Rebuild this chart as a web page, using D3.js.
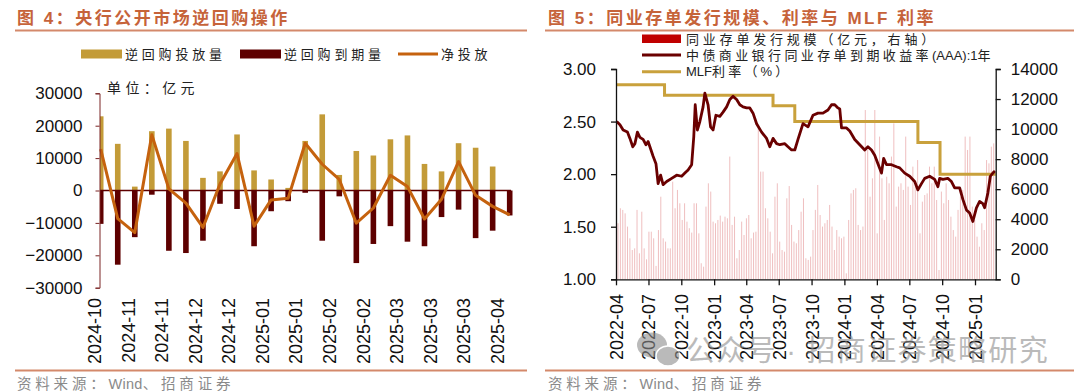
<!DOCTYPE html>
<html>
<head>
<meta charset="utf-8">
<script src="https://cdn.jsdelivr.net/npm/d3@7"></script>
<style>
  body { margin: 0; background: #fff; }
  svg { display: block; font-family: "Liberation Sans", "Noto Sans CJK SC", sans-serif; }
</style>
</head>
<body>
<div id="chart"></div>
<script>
/* ---------- 图4 data: weekly reverse repo (亿元) ---------- */
const weeks = ["2024-10-18","2024-10-25","2024-11-01","2024-11-08","2024-11-15","2024-11-22","2024-11-29",
  "2024-12-06","2024-12-13","2024-12-20","2024-12-27","2025-01-03","2025-01-10","2025-01-17","2025-01-24",
  "2025-01-31","2025-02-07","2025-02-14","2025-02-21","2025-02-28","2025-03-07","2025-03-14","2025-03-21",
  "2025-03-28","2025-04-04"];
const injection = [22900,14400,1200,18300,19100,15300,3900,5900,17300,6200,3400,800,15300,23500,4800,
  12200,10800,15800,17000,8200,5900,14600,13200,7400,0];
const maturity = [-10300,-22900,-14400,-1300,-18600,-19300,-15500,-4100,-5700,-17200,-6400,-3300,-700,
  -15500,-1800,-22400,-16500,-11000,-15800,-17200,-8200,-5900,-14700,-12400,-7700];
const netInjection = [12800,-8700,-13000,17200,500,-3900,-11400,2000,11400,-11000,-2900,-2400,14600,8100,
  3400,-10100,-5400,4700,1200,-8800,-2700,8900,-1500,-4900,-7500];
const weekTicks = ["2024-10","2024-11","2024-11","2024-12","2024-12","2025-01","2025-01","2025-02",
  "2025-02","2025-03","2025-03","2025-03","2025-04"];
const leftTicks = [30000,20000,10000,0,-10000,-20000,-30000];

/* ---------- 图5 data ---------- */
// 中债商业银行同业存单到期收益率(AAA):1年 (%)
const ncdYield = [
  ["2022-04-03",2.50],["2022-04-12",2.47],["2022-04-21",2.42],["2022-05-03",2.40],["2022-05-10",2.34],
  ["2022-05-18",2.26],["2022-05-24",2.29],["2022-05-31",2.40],["2022-06-07",2.35],["2022-06-16",2.33],
  ["2022-06-24",2.28],["2022-06-30",2.31],["2022-07-05",2.26],["2022-07-14",2.17],["2022-07-22",2.10],
  ["2022-07-28",1.91],["2022-08-04",1.99],["2022-08-11",1.90],["2022-08-21",1.93],["2022-09-04",1.96],
  ["2022-09-18",1.99],["2022-10-02",1.98],["2022-10-11",2.01],["2022-10-20",2.04],["2022-10-30",2.09],
  ["2022-11-05",2.36],["2022-11-09",2.66],["2022-11-15",2.42],["2022-11-22",2.50],["2022-12-01",2.64],
  ["2022-12-06",2.77],["2022-12-15",2.66],["2022-12-22",2.45],["2022-12-29",2.42],["2023-01-06",2.56],
  ["2023-01-17",2.55],["2023-01-26",2.59],["2023-02-05",2.64],["2023-02-14",2.71],["2023-02-23",2.74],
  ["2023-03-05",2.71],["2023-03-14",2.66],["2023-03-23",2.64],["2023-04-02",2.63],["2023-04-11",2.63],
  ["2023-04-20",2.58],["2023-04-30",2.48],["2023-05-14",2.40],["2023-05-28",2.34],["2023-06-06",2.26],
  ["2023-06-15",2.34],["2023-06-25",2.29],["2023-07-04",2.28],["2023-07-18",2.29],["2023-07-27",2.26],
  ["2023-08-06",2.23],["2023-08-15",2.23],["2023-08-24",2.33],["2023-09-07",2.48],["2023-09-21",2.45],
  ["2023-10-05",2.56],["2023-10-19",2.58],["2023-11-02",2.58],["2023-11-16",2.61],["2023-11-26",2.66],
  ["2023-12-05",2.66],["2023-12-14",2.63],["2023-12-19",2.62],["2023-12-24",2.44],["2024-01-07",2.44],
  ["2024-01-16",2.41],["2024-01-30",2.33],["2024-02-13",2.28],["2024-02-27",2.23],["2024-03-07",2.26],
  ["2024-03-17",2.23],["2024-03-26",2.18],["2024-04-04",2.10],["2024-04-14",2.01],["2024-04-20",2.15],
  ["2024-04-28",2.09],["2024-05-12",2.09],["2024-05-26",2.07],["2024-06-04",2.06],["2024-06-18",2.01],
  ["2024-07-02",1.98],["2024-07-16",1.93],["2024-07-25",1.85],["2024-08-04",1.91],["2024-08-13",1.96],
  ["2024-08-27",1.98],["2024-09-10",1.95],["2024-09-19",1.88],["2024-09-24",1.96],["2024-10-03",1.95],
  ["2024-10-17",1.96],["2024-10-27",1.93],["2024-11-05",1.87],["2024-11-19",1.87],["2024-11-28",1.76],
  ["2024-12-08",1.66],["2024-12-17",1.63],["2024-12-26",1.55],["2025-01-05",1.68],["2025-01-14",1.74],
  ["2025-01-23",1.72],["2025-01-28",1.68],["2025-02-06",1.82],["2025-02-13",1.98],["2025-02-20",2.01],
  ["2025-02-26",2.03]
];
// MLF利率（%）
const mlfRate = [["2022-04-01",2.85],["2022-08-15",2.75],["2023-06-15",2.65],["2023-08-15",2.50],
  ["2024-07-25",2.30],["2024-09-25",2.00],["2025-02-28",2.00]];
// 同业存单发行规模（亿元）, roughly weekly samples from 2022-04 to 2025-02
const ncdIssue = [3730,4730,4620,4390,3510,2730,1950,2060,4620,1730,4500,2060,1330,3170,3170,2730,890,
  3280,5500,2730,2510,2060,2060,6500,4730,5950,5060,3950,5060,3840,3400,3110,5060,5060,3060,1070,840,
  4840,6390,5840,3840,3730,3950,4240,3840,4170,4060,8170,3620,4170,1400,1950,3840,2950,4060,4280,2730,
  3110,3170,10050,7170,7170,4730,4060,3170,1730,5500,6390,2510,1950,1840,5390,6210,3620,2510,2400,3280,
  4500,5390,1400,1290,
  1510,3280,4620,6280,4280,3510,3730,3950,4950,3510,1950,3280,2840,2730,2840,400,3950,5720,5950,6060,
  3620,3280,3510,11270,8610,5500,6720,11270,3060,9500,6720,3950,6830,6390,8170,10380,4840,6170,6390,
  5950,9500,6170,4950,7500,6280,7940,3060,5170,5610,5720,7500,6390,7500,5280,620,5840,5060,6390,5280,
  4170,3280,2840,4620,5500,5950,9500,8610,9500,4840,3950,2840,2170,3730,3280,7940,7720,8830,9050];
const quarterTicks = ["2022-04","2022-07","2022-10","2023-01","2023-04","2023-07","2023-10","2024-01",
  "2024-04","2024-07","2024-10","2025-01"];
const rateTicks = [1.0,1.5,2.0,2.5,3.0];
const issueTicks = [0,2000,4000,6000,8000,10000,12000,14000];

const width = 1080, height = 392;
const titleColor = "#c6633a", ruleColor = "#d4896b";
const parse = d3.timeParse("%Y-%m-%d"), parseM = d3.timeParse("%Y-%m");

const svg = d3.select("#chart").append("svg")
  .attr("width", width).attr("height", height)
  .attr("viewBox", [0, 0, width, height]);

// text with spaced CJK pieces and tight latin pieces: parts = [[str, spacing], ...]
function spaced(sel, parts) {
  parts.forEach(p => sel.append("tspan").attr("letter-spacing", p[1] + "px").text(p[0]));
  return sel;
}

/* frame pieces shared by both panels */
function frame(x0, x1, tx, title, sourceX) {
  svg.append("text").attr("x", tx).attr("y", 23.5)
    .attr("fill", titleColor).attr("font-size", 17).attr("font-weight", "bold")
    .attr("letter-spacing", "2.5px").text(title);
  svg.append("line").attr("x1", x0).attr("x2", x1).attr("y1", 30.5).attr("y2", 30.5)
    .attr("stroke", ruleColor).attr("stroke-width", 2);
  svg.append("line").attr("x1", x0).attr("x2", x1).attr("y1", 370.5).attr("y2", 370.5)
    .attr("stroke", ruleColor).attr("stroke-width", 2);
  spaced(svg.append("text").attr("x", sourceX).attr("y", 388.5)
    .attr("fill", "#8a8a8a").attr("font-size", 14.5),
    [["资料来源：", 3.8], ["Wind", 0.3], ["、招商证券", 3.8]]);
}
frame(15, 527, 17, "图 4：央行公开市场逆回购操作", 17);
frame(545, 1074, 548, "图 5：同业存单发行规模、利率与 MLF 利率", 548);

/* ================= 图4 ================= */
const gold = "#c39b38", maroon = "#5e0000", orange = "#c5620e";

const x = d3.scalePoint().domain(weeks).range([100.7, 509.7]);
const y = d3.scaleLinear().domain([-30000, 30000]).range([287.7, 93.3]);
const xLab = d3.scalePoint().domain(d3.range(weekTicks.length)).range([95, 497.3]);

svg.append("defs").append("clipPath").attr("id", "clipL")
  .append("rect").attr("x", 100).attr("y", 80).attr("width", 420).attr("height", 220);

// legend
const legL = svg.append("g").attr("font-size", 13).attr("letter-spacing", "3.8px").attr("fill", "#222");
legL.append("rect").attr("x", 81).attr("y", 49.5).attr("width", 41).attr("height", 9).attr("fill", gold);
legL.append("text").attr("x", 125).attr("y", 58.5).text("逆回购投放量");
legL.append("rect").attr("x", 240).attr("y", 49.5).attr("width", 41).attr("height", 9).attr("fill", maroon);
legL.append("text").attr("x", 284).attr("y", 58.5).text("逆回购到期量");
legL.append("line").attr("x1", 398).attr("x2", 438).attr("y1", 54).attr("y2", 54)
  .attr("stroke", orange).attr("stroke-width", 3);
legL.append("text").attr("x", 441).attr("y", 58.5).text("净投放");

svg.append("text").attr("x", 107).attr("y", 92.5).attr("font-size", 14)
  .attr("letter-spacing", "4.4px").attr("fill", "#222").text("单位：亿元");

// bars
const plotL = svg.append("g").attr("clip-path", "url(#clipL)");
plotL.selectAll(".inj").data(weeks).join("rect").attr("class", "inj")
  .attr("x", d => x(d) - 2.8).attr("width", 5.6)
  .attr("y", (d, i) => y(injection[i])).attr("height", (d, i) => y(0) - y(injection[i]))
  .attr("fill", gold);
plotL.selectAll(".mat").data(weeks).join("rect").attr("class", "mat")
  .attr("x", d => x(d) - 2.8).attr("width", 5.6)
  .attr("y", y(0)).attr("height", (d, i) => y(maturity[i]) - y(0))
  .attr("fill", maroon);

// zero line
svg.append("line").attr("x1", 100).attr("x2", 511).attr("y1", y(0)).attr("y2", y(0))
  .attr("stroke", maroon).attr("stroke-width", 1.6);

// net line
svg.append("path").datum(weeks)
  .attr("d", d3.line().x(d => x(d)).y((d, i) => y(netInjection[i])))
  .attr("fill", "none").attr("stroke", orange).attr("stroke-width", 3)
  .attr("stroke-linejoin", "round");

// y axis
const axL = svg.append("g").attr("transform", "translate(99.5,0)")
  .call(d3.axisLeft(y).tickValues(leftTicks).tickSize(4).tickSizeOuter(4).tickPadding(13)
    .tickFormat(d3.format("d")));
axL.select(".domain").attr("stroke", "#7a2424");
axL.selectAll(".tick line").attr("stroke", "#7a2424");
axL.selectAll("text").attr("font-size", 17).attr("fill", "#111").attr("font-family", "Liberation Sans");

// x labels
svg.append("g").selectAll("text").data(weekTicks).join("text")
  .attr("transform", (d, i) => `translate(${xLab(i)},298) rotate(-90)`)
  .attr("text-anchor", "end").attr("dy", "0.35em")
  .attr("font-size", 18).attr("fill", "#111").text(d => d);

/* ================= 图5 ================= */
const red = "#c00000", wine = "#6a0000", mlfGold = "#c9a13c";
const L = 616, R = 995.7, T = 69, B = 279.3;

const xt = d3.scaleTime().domain([parse("2022-04-01"), parse("2025-02-28")]).range([L, R]);
const yR = d3.scaleLinear().domain([1, 3]).range([B, T]);
const yI = d3.scaleLinear().domain([0, 14000]).range([B, T]);
const xi = d3.scaleLinear().domain([0, ncdIssue.length - 1]).range([L + 2, R - 2]);

// issuance bars
svg.append("g").selectAll("rect").data(ncdIssue).join("rect")
  .attr("x", (d, i) => xi(i) - 0.5).attr("width", 1)
  .attr("y", d => yI(d)).attr("height", d => B - yI(d))
  .attr("fill", "#d8676a").attr("opacity", 0.42);

// MLF step line
svg.append("path").datum(mlfRate)
  .attr("d", d3.line().curve(d3.curveStepAfter).x(d => xt(parse(d[0]))).y(d => yR(d[1])))
  .attr("fill", "none").attr("stroke", mlfGold).attr("stroke-width", 3);

// yield line
svg.append("path").datum(ncdYield)
  .attr("d", d3.line().x(d => xt(parse(d[0]))).y(d => yR(d[1])))
  .attr("fill", "none").attr("stroke", wine).attr("stroke-width", 2.8)
  .attr("stroke-linejoin", "round");

// axes
const axR1 = svg.append("g").attr("transform", `translate(${L},0)`)
  .call(d3.axisLeft(yR).tickValues(rateTicks).tickSize(5).tickSizeOuter(5).tickPadding(15)
    .tickFormat(d3.format(".2f")));
const axR2 = svg.append("g").attr("transform", `translate(${R},0)`)
  .call(d3.axisRight(yI).tickValues(issueTicks).tickSize(5).tickSizeOuter(5).tickPadding(10)
    .tickFormat(d3.format("d")));
const axR3 = svg.append("g").attr("transform", `translate(0,${B})`)
  .call(d3.axisBottom(xt).tickValues(quarterTicks.map(parseM)).tickSize(6).tickSizeOuter(0)
    .tickFormat(""));
[axR1, axR2, axR3].forEach(a => {
  a.select(".domain").attr("stroke", "#111").attr("stroke-width", 1.3);
  a.selectAll(".tick line").attr("stroke", "#111").attr("stroke-width", 1.3);
  a.selectAll("text").attr("font-size", 17).attr("fill", "#111").attr("font-family", "Liberation Sans");
});

svg.append("g").selectAll("text").data(quarterTicks).join("text")
  .attr("transform", d => `translate(${xt(parseM(d)) + 0.7},294) rotate(-90)`)
  .attr("text-anchor", "end").attr("dy", "0.35em")
  .attr("font-size", 18).attr("fill", "#111").text(d => d);

// legend
const legR = svg.append("g").attr("font-size", 13).attr("fill", "#222");
legR.append("rect").attr("x", 642).attr("y", 34.5).attr("width", 39).attr("height", 8.5).attr("fill", red);
spaced(legR.append("text").attr("x", 686).attr("y", 43.5), [["同业存单发行规模（亿元，右轴）", 3.8]]);
legR.append("line").attr("x1", 642).attr("x2", 681).attr("y1", 55).attr("y2", 55)
  .attr("stroke", wine).attr("stroke-width", 2.8);
spaced(legR.append("text").attr("x", 686).attr("y", 59.5),
  [["中债商业银行同业存单到期收益率", 3.4], ["(AAA):1", 0], ["年", 0]]);
legR.append("line").attr("x1", 642).attr("x2", 681).attr("y1", 71.7).attr("y2", 71.7)
  .attr("stroke", mlfGold).attr("stroke-width", 3);
spaced(legR.append("text").attr("x", 686).attr("y", 76), [["MLF", 0], ["利率（%）", 3.2]]);

// watermark
const wm = svg.append("g").attr("opacity", 0.6);
wm.append("ellipse").attr("cx", 652).attr("cy", 345).attr("rx", 15).attr("ry", 12.5).attr("fill", "#8d8d8d");
wm.append("ellipse").attr("cx", 668).attr("cy", 356).attr("rx", 12).attr("ry", 10).attr("fill", "#8d8d8d")
  .attr("stroke", "#fff").attr("stroke-width", 1.5);
wm.append("text").attr("x", 686).attr("y", 361).attr("font-size", 29).attr("letter-spacing", "1.3px")
  .attr("fill", "#8d8d8d").text("公众号 · 招商证券策略研究");
</script>
</body>
</html>
